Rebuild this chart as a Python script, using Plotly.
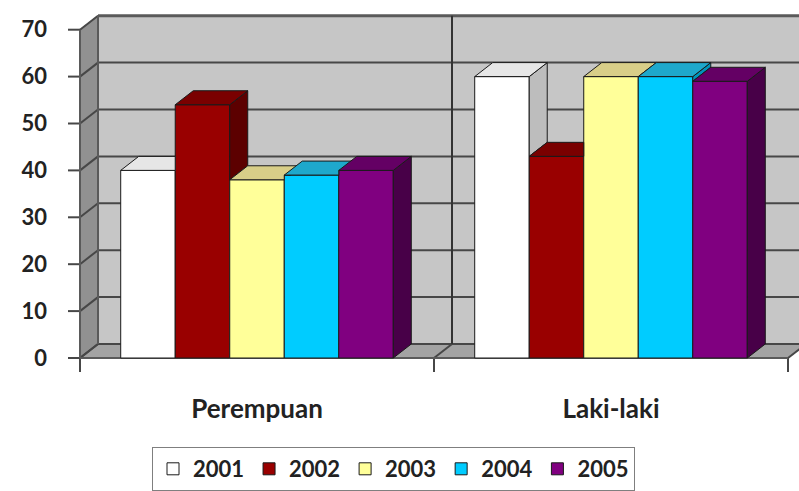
import plotly.graph_objects as go

# ---- data ----
categories = ["Perempuan", "Laki-laki"]
years = ["2001", "2002", "2003", "2004", "2005"]
perempuan = [40, 54, 38, 39, 40]
laki_laki = [60, 43, 60, 60, 59]
y_ticks = [0, 10, 20, 30, 40, 50, 60, 70]

# face colours per series: front, top (lit), right side (shaded)
front_colors = ["#FFFFFF", "#990000", "#FFFF99", "#00CCFF", "#800080"]
top_colors = ["#E6E6E6", "#7A0000", "#D8CE88", "#1EA8CC", "#640064"]
side_colors = ["#BDBDBD", "#5C0000", "#BDBD70", "#0094BA", "#480048"]

# ---- geometry of the pseudo-3D box ----
W, H = 799, 491
ML = 48                # left margin (tick labels live here)
X0_PX = 80             # pixel column of the front-left corner of the floor
Y0_PX = 358            # pixel row of value 0 on the front plane
PX_X = 354             # pixels per category slot
PX_Y = 4.69            # pixels per value unit
DX = 18 / PX_X         # depth offset (right) in data units
DY = 14 / PX_Y         # depth offset (up) in data units
GROUP = 0.77           # width of a cluster of bars
BAR_W = GROUP / len(years)
VMAX = y_ticks[-1]
XL, XR = -0.5, len(categories) - 0.5

x_range = [XL - (X0_PX - ML) / PX_X, XR + (W - (X0_PX + PX_X * len(categories))) / PX_X]
y_range = [-(H - Y0_PX) / PX_Y, Y0_PX / PX_Y]

series = [[perempuan[i], laki_laki[i]] for i in range(len(years))]

GRID = "#474747"
shapes = []


def poly_path(pts):
    return "M " + " L ".join(f"{x},{y}" for x, y in pts) + " Z"


def line(x0, y0, x1, y1, color=GRID, width=2):
    shapes.append(dict(type="line", xref="x", yref="y", x0=x0, y0=y0, x1=x1, y1=y1,
                       line=dict(color=color, width=width), layer="below"))


# back wall
shapes.append(dict(type="path", xref="x", yref="y", layer="below",
                   path=poly_path([(XL + DX, DY), (XR + DX, DY), (XR + DX, VMAX + DY), (XL + DX, VMAX + DY)]),
                   fillcolor="#C6C6C6", line=dict(width=0)))
# left side wall
shapes.append(dict(type="path", xref="x", yref="y", layer="below",
                   path=poly_path([(XL, 0), (XL + DX, DY), (XL + DX, VMAX + DY), (XL, VMAX)]),
                   fillcolor="#919191", line=dict(color="#6E6E6E", width=1)))
# floor
shapes.append(dict(type="path", xref="x", yref="y", layer="below",
                   path=poly_path([(XL, 0), (XR, 0), (XR + DX, DY), (XL + DX, DY)]),
                   fillcolor="#A3A3A3", line=dict(color="#7A7A7A", width=1)))

# value gridlines: along the back wall and across the side wall
for v in y_ticks:
    line(XL + DX, v + DY, XR + DX, v + DY, color="#5A5A5A" if v == VMAX else GRID, width=3 if v == VMAX else 2)
    line(XL, v, XL + DX, v + DY)
    line(XL - 12 / PX_X, v, XL, v)           # tick mark on the front edge

# category dividers on the floor and back wall
for c in range(len(categories) + 1):
    xc = XL + c
    line(xc, 0, xc + DX, DY)
    line(xc, 0, xc, -14 / PX_Y)                # tick mark below the axis
line(XL + 1 + DX, DY, XL + 1 + DX, VMAX + DY, color="#333333", width=2)
line(XL + DX, DY, XL + DX, VMAX + DY, color="#5A5A5A", width=2)
line(XL, 0, XL, VMAX, color="#5A5A5A", width=2)
line(XL, 0, XR, 0, color="#5A5A5A", width=2)

fig = go.Figure()

# front faces of the columns (these carry the legend)
for i, yr in enumerate(years):
    fig.add_trace(go.Bar(
        x=list(range(len(categories))), y=series[i], name=yr,
        width=BAR_W, offset=-GROUP / 2 + i * BAR_W,
        marker=dict(color=front_colors[i], line=dict(color="#1A1A1A", width=1)),
        hoverinfo="skip",
    ))


def top_face(x0, x1, v, nv):
    pts = [(x0, v), (x1, v)]
    if nv is not None and nv > v:
        pts.append((x1, min(nv, v + DY)))
        if nv < v + DY:
            t = (nv - v) / DY
            pts.append((x1 + t * DX, nv))
            pts.append((x1 + DX, v + DY))
    else:
        pts.append((x1 + DX, v + DY))
    pts.append((x0 + DX, v + DY))
    return pts


def add_poly(pts, color):
    xs = [p[0] for p in pts] + [pts[0][0]]
    ys = [p[1] for p in pts] + [pts[0][1]]
    fig.add_trace(go.Scatter(x=xs, y=ys, mode="lines", fill="toself", fillcolor=color,
                             line=dict(color="#1A1A1A", width=1), showlegend=False,
                             hoverinfo="skip"))


# tops and right sides, painted left to right so nearer faces cover farther ones
for c in range(len(categories)):
    for i in range(len(years)):
        v = series[i][c]
        nv = series[i + 1][c] if i + 1 < len(years) else None
        x0 = c - GROUP / 2 + i * BAR_W
        x1 = x0 + BAR_W
        bottom = nv if nv is not None else 0
        if bottom < v:
            add_poly([(x1, bottom), (x1, v), (x1 + DX, v + DY), (x1 + DX, bottom + DY)], side_colors[i])
        add_poly(top_face(x0, x1, v, nv), top_colors[i])

FONT = dict(family="Lato, 'Open Sans', sans-serif", size=22, color="#222222", weight="bold")
CAT_FONT = dict(FONT, size=26)

fig.update_layout(
    width=W, height=H,
    margin=dict(l=ML, r=0, t=0, b=0),
    paper_bgcolor="white", plot_bgcolor="white",
    barmode="overlay",
    font=FONT,
    showlegend=True,
    legend=dict(
        orientation="h",
        x=(152 - ML) / (W - ML), xanchor="left",
        y=1 - 447 / H, yanchor="top",
        bordercolor="#7F7F7F", borderwidth=1, bgcolor="white",
        font=FONT, traceorder="normal",
    ),
    xaxis=dict(range=x_range, tickvals=list(range(len(categories))), ticktext=categories,
               tickfont=CAT_FONT,
               showgrid=False, zeroline=False, showline=False, ticks="",
               anchor="free", position=(H - Y0_PX) / H, ticklabelstandoff=33,
               fixedrange=True),
    yaxis=dict(range=y_range, tickvals=y_ticks, showgrid=False, zeroline=False,
               showline=False, ticks="", fixedrange=True),
    shapes=shapes,
)

fig.write_html("out.html")
